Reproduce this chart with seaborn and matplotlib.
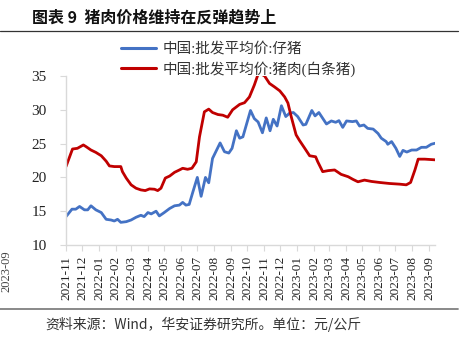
import matplotlib
matplotlib.use("Agg")
import matplotlib.pyplot as plt
from matplotlib.lines import Line2D
import pandas as pd
import seaborn as sns

# ---- data ----
piglet_dates = [
    "2021-11-01", "2021-11-12", "2021-11-19", "2021-11-26", "2021-12-05", "2021-12-11",
    "2021-12-17", "2021-12-26", "2022-01-05", "2022-01-14", "2022-01-23", "2022-01-29",
    "2022-02-04", "2022-02-10", "2022-02-20", "2022-03-01", "2022-03-10", "2022-03-19",
    "2022-03-25", "2022-04-01", "2022-04-07", "2022-04-16", "2022-04-22", "2022-05-01",
    "2022-05-11", "2022-05-20", "2022-05-29", "2022-06-04", "2022-06-10", "2022-06-16",
    "2022-06-23", "2022-07-01", "2022-07-08", "2022-07-16", "2022-07-22", "2022-07-29",
    "2022-08-12", "2022-08-20", "2022-08-28", "2022-09-03", "2022-09-11", "2022-09-17",
    "2022-09-23", "2022-10-07", "2022-10-14", "2022-10-21", "2022-10-29", "2022-11-05",
    "2022-11-12", "2022-11-18", "2022-11-25", "2022-12-03", "2022-12-11", "2022-12-18",
    "2022-12-25", "2023-01-02", "2023-01-12", "2023-01-17", "2023-01-28", "2023-02-03",
    "2023-02-10", "2023-02-24", "2023-03-05", "2023-03-13", "2023-03-19", "2023-03-26",
    "2023-04-02", "2023-04-13", "2023-04-20", "2023-04-26", "2023-05-04", "2023-05-11",
    "2023-05-21", "2023-05-30", "2023-06-05", "2023-06-14", "2023-06-17", "2023-06-24",
    "2023-07-02", "2023-07-09", "2023-07-15", "2023-07-22", "2023-07-31", "2023-08-09",
    "2023-08-18", "2023-08-27", "2023-09-05", "2023-09-12",
]
piglet_values = [
    14.2, 15.3, 15.3, 15.7, 15.2, 15.2,
    15.8, 15.2, 14.8, 13.8, 13.7, 13.55,
    13.8, 13.35, 13.45, 13.7, 14.1, 14.4,
    14.2, 14.8, 14.6, 15.0, 14.3, 14.8,
    15.4, 15.8, 15.9, 16.3, 15.9, 16.0,
    17.9, 20.0, 17.2, 20.0, 19.2, 22.8,
    25.1, 23.8, 23.6, 24.3, 26.9, 25.8,
    26.0, 29.9, 28.7, 28.2, 26.6, 28.8,
    26.9, 28.6, 27.6, 30.6, 29.0, 29.5,
    29.6, 29.0, 27.75, 27.85, 29.9, 29.1,
    29.6, 27.9, 28.35, 28.15, 28.4, 27.4,
    28.35, 28.25, 28.35, 27.6, 27.75, 27.25,
    27.15, 26.5, 25.8, 25.3, 24.9, 25.3,
    24.3, 23.1, 24.0, 23.75, 24.05, 24.05,
    24.45, 24.45, 24.9, 25.05,
]

pork_dates = [
    "2021-11-01", "2021-11-13", "2021-11-22", "2021-12-03", "2021-12-08", "2021-12-17",
    "2021-12-26", "2022-01-05", "2022-01-14", "2022-01-20", "2022-01-29", "2022-02-10",
    "2022-02-13", "2022-02-20", "2022-03-01", "2022-03-10", "2022-03-19", "2022-03-27",
    "2022-04-04", "2022-04-13", "2022-04-19", "2022-04-25", "2022-05-03", "2022-05-11",
    "2022-05-20", "2022-05-29", "2022-06-04", "2022-06-13", "2022-06-21", "2022-06-29",
    "2022-07-05", "2022-07-14", "2022-07-22", "2022-07-29", "2022-08-08", "2022-08-17",
    "2022-08-26", "2022-09-04", "2022-09-17", "2022-09-26", "2022-10-05", "2022-10-14",
    "2022-10-22", "2022-11-02", "2022-11-11", "2022-11-20", "2022-11-30", "2022-12-09",
    "2022-12-15", "2022-12-21", "2022-12-30", "2023-01-05", "2023-01-15", "2023-01-24",
    "2023-02-04", "2023-02-08", "2023-02-17", "2023-02-27", "2023-03-11", "2023-03-23",
    "2023-04-05", "2023-04-14", "2023-04-23", "2023-05-05", "2023-05-18", "2023-06-02",
    "2023-06-20", "2023-07-09", "2023-07-21", "2023-07-29", "2023-08-06", "2023-08-12",
    "2023-08-24", "2023-09-12",
]
pork_values = [
    21.6, 24.2, 24.3, 24.8, 24.55, 24.05,
    23.7, 23.2, 22.4, 21.7, 21.6, 21.6,
    20.85, 19.9, 18.9, 18.4, 18.15, 18.05,
    18.3, 18.25, 18.05, 18.4, 19.9, 20.2,
    20.75, 21.1, 21.35, 21.2, 21.35, 22.3,
    26.0, 29.7, 30.1, 29.6, 29.3, 29.2,
    28.9, 30.0, 30.8, 31.05, 31.9, 33.65,
    35.5, 35.0, 33.9, 33.4, 32.8, 31.9,
    31.0, 29.0, 26.3, 25.5, 24.3, 23.2,
    23.05, 22.3, 20.85, 21.0, 21.1, 20.45,
    20.1, 19.7, 19.35, 19.6, 19.4, 19.25,
    19.1, 19.0, 18.9, 19.25, 21.1, 22.7,
    22.7, 22.6,
]

series_labels = ["中国:批发平均价:仔猪", "中国:批发平均价:猪肉(白条猪)"]
y_ticks = [10, 15, 20, 25, 30, 35]
title_text = "图表 9  猪肉价格维持在反弹趋势上"
source_text = "资料来源：Wind，华安证券研究所。单位：元/公斤"

# ---- style ----
sns.set_theme(style="white")
SERIF = ["Liberation Serif", "Noto Sans CJK SC", "DejaVu Sans"]
plt.rcParams["font.family"] = SERIF

W, H = 468, 339
fig = plt.figure(figsize=(W / 100, H / 100), dpi=100)
fig.patch.set_facecolor("white")

ax = fig.add_axes([66 / W, 1 - 245 / H, (435 - 66) / W, (245 - 76) / H])

df_piglet = pd.DataFrame({"date": pd.to_datetime(piglet_dates), "value": piglet_values})
df_pork = pd.DataFrame({"date": pd.to_datetime(pork_dates), "value": pork_values})

sns.lineplot(data=df_piglet, x="date", y="value", ax=ax, color="#4472C4",
             linewidth=2.0, label=series_labels[0])
sns.lineplot(data=df_pork, x="date", y="value", ax=ax, color="#C00000",
             linewidth=2.0, label=series_labels[1])

ax.set_xlim(pd.Timestamp("2021-11-01"), pd.Timestamp("2023-09-12"))
ax.set_ylim(10, 35)
ax.set_yticks(y_ticks)
ax.set_yticklabels([str(v) for v in y_ticks], fontfamily="Liberation Serif",
                   fontsize=11, color="#222222")
month_ticks = pd.date_range("2021-11-01", "2023-09-01", freq="MS")
ax.set_xticks(month_ticks)
ax.set_xticklabels([d.strftime("%Y-%m") for d in month_ticks], fontfamily="Liberation Serif",
                   fontsize=9.5, color="#222222", rotation=90, ha="center", va="top")
ax.set_xlabel("")
ax.set_ylabel("")

for side in ["top", "right"]:
    ax.spines[side].set_visible(False)
for side in ["left", "bottom"]:
    ax.spines[side].set_color("#D9D9D9")
    ax.spines[side].set_linewidth(1.0)

ax.tick_params(axis="y", direction="out", length=4, width=0.8, color="#D9D9D9",
               pad=10, left=True)
ax.tick_params(axis="x", direction="out", length=4, width=0.8, color="#D9D9D9",
               pad=4, bottom=True)

leg = ax.legend(loc="upper left", bbox_to_anchor=(121 / W, 1 - 42 / H),
                bbox_transform=fig.transFigure, frameon=False,
                prop={"family": SERIF, "size": 10.5},
                handlelength=2.4, handletextpad=0.45, labelspacing=0.35,
                borderpad=0, borderaxespad=0)
for t in leg.get_texts():
    t.set_color("#333333")
for h in leg.get_lines():
    h.set_linewidth(2.2)

# title, rules and source note
fig.text(32 / W, 1 - 18 / H, title_text, fontsize=11.5, fontweight="bold",
         family=["Noto Sans CJK SC", "DejaVu Sans"], va="center", ha="left", color="#111111")
fig.add_artist(Line2D([0, 458 / W], [1 - 31 / H, 1 - 31 / H], color="#333333",
                      linewidth=0.9, transform=fig.transFigure))
fig.add_artist(Line2D([0, 458 / W], [1 - 309 / H, 1 - 309 / H], color="#808080",
                      linewidth=1.3, transform=fig.transFigure))
fig.text(45 / W, 1 - 324 / H, source_text, fontsize=10,
         family=["Noto Sans CJK SC", "DejaVu Sans"], va="center", ha="left", color="#333333")

# label of the neighbouring chart visible at the far left edge
fig.text(0.5 / W, 1 - 250 / H, "2023-09", fontsize=9, rotation=90, va="top", ha="left",
         color="#444444", family=["Liberation Serif"])

fig.savefig("out.png", dpi=100, facecolor="white")
